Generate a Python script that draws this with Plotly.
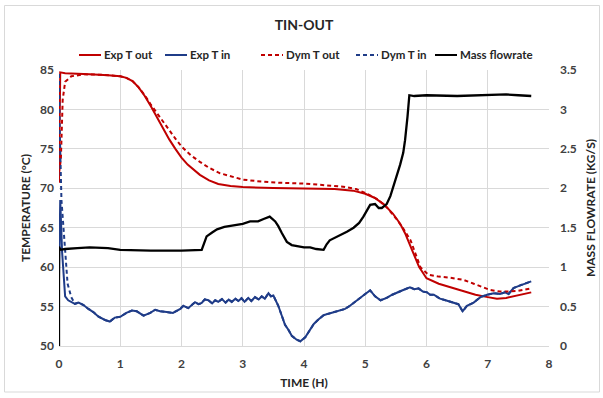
import plotly.graph_objects as go

# ---------------- data ----------------
exp_tout_t = [0.0, 0.02, 0.1, 0.3, 0.5, 0.8, 1.0, 1.1, 1.2, 1.3,
              1.4, 1.5, 1.6, 1.7, 1.8, 1.9, 2.0, 2.1, 2.2, 2.3,
              2.45, 2.6, 2.8, 3.0, 3.5, 4.0, 4.5, 4.8, 5.0, 5.15,
              5.3, 5.45, 5.57, 5.65, 5.72, 5.8, 5.88, 6.0, 6.2, 6.5,
              6.8, 7.0, 7.15, 7.3, 7.5, 7.71]
exp_tout = [70.7, 84.7, 84.6, 84.5, 84.45, 84.35, 84.2, 84.0, 83.6, 82.8,
            81.7, 80.4, 79.0, 77.6, 76.2, 75.0, 73.9, 73.0, 72.3, 71.7,
            71.0, 70.55, 70.3, 70.15, 70.05, 70.0, 69.9, 69.7, 69.3, 68.8,
            68.0, 66.8, 65.5, 64.3, 63.0, 61.6, 60.0, 58.6, 57.9, 57.2,
            56.5, 56.2, 56.0, 56.1, 56.4, 56.8]

dym_tout_t = [0.0, 0.03, 0.06, 0.1, 0.2, 0.4, 0.7, 1.0, 1.1, 1.2,
              1.3, 1.4, 1.5, 1.6, 1.7, 1.8, 1.9, 2.0, 2.15, 2.3,
              2.45, 2.63, 2.8, 3.0, 3.3, 3.6, 4.0, 4.3, 4.64, 4.85,
              5.03, 5.2, 5.35, 5.5, 5.62, 5.74, 5.82, 5.9, 6.03, 6.2,
              6.39, 6.6, 6.77, 6.9, 7.04, 7.2, 7.32, 7.5, 7.71]
dym_tout = [72.0, 73.6, 81.2, 83.5, 84.2, 84.45, 84.4, 84.2, 84.0, 83.6,
            82.8, 81.8, 80.6, 79.5, 78.5, 77.4, 76.3, 75.3, 74.2, 73.35,
            72.6, 71.9, 71.5, 71.1, 70.85, 70.7, 70.6, 70.4, 70.2, 69.9,
            69.3, 68.6, 67.6, 66.2, 64.9, 63.4, 61.8, 60.0, 59.05, 58.8,
            58.65, 58.4, 57.9, 57.5, 57.1, 56.9, 56.9, 57.0, 57.3]

exp_tin_t = [0.0, 0.02, 0.05, 0.1, 0.15, 0.26, 0.32, 0.4, 0.48, 0.56,
             0.64, 0.75, 0.83, 0.91, 1.0, 1.1, 1.19, 1.27, 1.38, 1.49,
             1.57, 1.65, 1.76, 1.86, 1.98, 2.03, 2.11, 2.22, 2.28, 2.33,
             2.38, 2.44, 2.5, 2.55, 2.6, 2.66, 2.72, 2.77, 2.82, 2.88,
             2.93, 2.98, 3.03, 3.09, 3.14, 3.2, 3.26, 3.31, 3.36, 3.42,
             3.46, 3.5, 3.58, 3.64, 3.69, 3.75, 3.8, 3.88, 3.94, 4.02,
             4.1, 4.16, 4.24, 4.32, 4.4, 4.48, 4.59, 4.67, 4.75, 4.83,
             4.92, 5.0, 5.08, 5.16, 5.25, 5.35, 5.44, 5.52, 5.62, 5.73,
             5.8, 5.87, 5.94, 6.01, 6.06, 6.12, 6.22, 6.31, 6.42, 6.52,
             6.59, 6.66, 6.77, 6.88, 6.99, 7.1, 7.2, 7.28, 7.34, 7.42,
             7.5, 7.56, 7.64, 7.71]
exp_tin = [58.3, 68.5, 62.0, 56.3, 55.8, 55.35, 55.5, 55.2, 54.7, 54.3,
           53.75, 53.3, 53.1, 53.6, 53.7, 54.2, 54.5, 54.4, 53.85, 54.2,
           54.6, 54.4, 54.3, 54.2, 54.7, 55.1, 54.8, 55.55, 55.3, 55.45,
           55.9, 55.8, 55.4, 55.8, 55.6, 55.95, 55.5, 55.9, 55.6, 56.0,
           55.7, 56.05, 55.6, 56.1, 55.7, 56.2, 55.9, 56.3, 56.0, 56.7,
           56.3, 56.4, 55.1, 53.8, 52.7, 52.0, 51.3, 50.8, 50.6, 51.1,
           52.0, 52.8, 53.4, 53.9, 54.1, 54.3, 54.5, 54.7, 55.1, 55.6,
           56.2, 56.6, 57.05, 56.3, 55.8, 56.1, 56.5, 56.8, 57.1, 57.45,
           57.2, 57.3, 56.9, 56.8, 56.5, 56.5, 56.0, 55.8, 55.5, 55.3,
           54.4, 55.1, 55.5, 56.2, 56.5, 56.7, 56.6, 56.8, 56.6, 57.35,
           57.6, 57.8, 58.0, 58.2]

dym_tin_start_t = [0.0, 0.01, 0.04, 0.09, 0.14, 0.2]
dym_tin_start = [84.5, 78.0, 68.5, 63.0, 57.9, 56.2]

mass_t = [0.0, 0.0, 0.02, 0.1, 0.3, 0.5, 0.8, 1.0, 1.5, 2.0,
          2.33, 2.37, 2.41, 2.5, 2.58, 2.7, 2.85, 3.0, 3.12, 3.25,
          3.34, 3.44, 3.53, 3.58, 3.64, 3.72, 3.8, 3.88, 4.0, 4.1,
          4.2, 4.32, 4.37, 4.42, 4.5, 4.59, 4.7, 4.81, 4.9, 4.97,
          5.03, 5.08, 5.16, 5.22, 5.27, 5.35, 5.41, 5.46, 5.52, 5.57,
          5.62, 5.65, 5.69, 5.72, 5.8, 6.0, 6.5, 7.0, 7.3, 7.5,
          7.71]
mass = [0.0, 1.26, 1.22, 1.23, 1.24, 1.25, 1.24, 1.22, 1.21, 1.21,
        1.22, 1.30, 1.39, 1.44, 1.48, 1.51, 1.53, 1.55, 1.58, 1.58,
        1.61, 1.64, 1.58, 1.52, 1.43, 1.32, 1.28, 1.27, 1.25, 1.25,
        1.23, 1.22, 1.29, 1.34, 1.37, 1.41, 1.45, 1.50, 1.56, 1.64,
        1.72, 1.79, 1.80, 1.75, 1.75, 1.80, 1.90, 2.02, 2.17, 2.30,
        2.45, 2.61, 2.91, 3.18, 3.17, 3.18, 3.17, 3.18, 3.19, 3.18,
        3.17]

x_ticks = [0, 1, 2, 3, 4, 5, 6, 7, 8]
series_names = ["Exp T out", "Exp T in", "Dym T out", "Dym T in", "Mass flowrate"]

# Dym T in overlays Exp T in after the initial drop
dym_tin_t = dym_tin_start_t + exp_tin_t[5:]
dym_tin = dym_tin_start + exp_tin[5:]

RED = "#c00000"
BLUE = "#1f3c88"
BLACK = "#000000"
DASH = "4px,3px"
colors = [RED, BLUE, RED, BLUE, BLACK]
dashes = ["solid", "solid", DASH, DASH, "solid"]

fig = go.Figure()
fig.add_trace(go.Scatter(x=exp_tout_t, y=exp_tout, name=series_names[0], mode="lines",
                         line=dict(color=RED, width=2)))
fig.add_trace(go.Scatter(x=exp_tin_t, y=exp_tin, name=series_names[1], mode="lines",
                         line=dict(color=BLUE, width=2)))
fig.add_trace(go.Scatter(x=dym_tout_t, y=dym_tout, name=series_names[2], mode="lines",
                         line=dict(color=RED, width=2, dash=DASH)))
fig.add_trace(go.Scatter(x=dym_tin_t, y=dym_tin, name=series_names[3], mode="lines",
                         line=dict(color=BLUE, width=2, dash=DASH)))
fig.add_trace(go.Scatter(x=mass_t, y=mass, name=series_names[4], mode="lines",
                         line=dict(color=BLACK, width=2.3), yaxis="y2"))

FONT = "Lato"
tickfont = dict(family=FONT, size=12, color="#404040", weight="bold")
titlefont = dict(family=FONT, size=12, color="#262626", weight="bold")

# ---- plot-area geometry (px) used to place the custom legend ----
PL, PR, PT, PB = 59, 549, 70, 346
W, H = 603, 398


def px_x(p):
    return (p - PL) / (PR - PL)


def px_y(p):
    return (PB - p) / (PB - PT)


legend_line_x = [79, 165, 261, 356, 435]
LEG_Y = 55
shapes = [dict(type="rect", xref="paper", yref="paper",
               x0=px_x(4.5), x1=px_x(599.5), y0=px_y(392), y1=px_y(5.5),
               line=dict(color="#d9d9d9", width=1), layer="below")]
annotations = []
for name, col, dsh, lx in zip(series_names, colors, dashes, legend_line_x):
    shapes.append(dict(type="line", xref="paper", yref="paper",
                       x0=px_x(lx), x1=px_x(lx + 22), y0=px_y(LEG_Y), y1=px_y(LEG_Y),
                       line=dict(color=col, width=2, dash=dsh)))
    annotations.append(dict(text=name, xref="paper", yref="paper",
                            x=px_x(lx + 23), y=px_y(LEG_Y), xanchor="left",
                            yanchor="middle", showarrow=False,
                            font=dict(family=FONT, size=11.5, color="#262626",
                                      weight="bold")))

fig.update_layout(
    width=W, height=H,
    margin=dict(l=PL, r=W - PR, t=PT, b=H - PB, autoexpand=False),
    paper_bgcolor="white", plot_bgcolor="white",
    font=dict(family=FONT, color="#404040"),
    showlegend=False,
    title=dict(text="TIN-OUT", x=0.5, xanchor="center", xref="paper",
               y=1 - 25 / H, yref="container", yanchor="middle", automargin=False,
               font=dict(family=FONT, size=14, color="#262626", weight="bold")),
    xaxis=dict(range=[0, 8], tickvals=x_ticks, showgrid=True, gridcolor="#d9d9d9",
               gridwidth=1, showline=True, linecolor="#d9d9d9", zeroline=False,
               ticks="", tickfont=tickfont, ticklabelstandoff=7, automargin=False,
               title=dict(text="TIME (H)", standoff=8, font=titlefont)),
    yaxis=dict(range=[50, 85], dtick=5, showgrid=True, gridcolor="#d9d9d9",
               zeroline=False, showline=False, ticks="", tickfont=tickfont,
               ticklabelstandoff=4, automargin=False,
               title=dict(text="TEMPERATURE (°C)", standoff=6, font=titlefont)),
    yaxis2=dict(range=[0, 3.5], dtick=0.5, overlaying="y", side="right",
                showgrid=False, zeroline=False, showline=False, ticks="",
                tickfont=tickfont, ticklabelstandoff=10, automargin=False,
                title=dict(text="MASS FLOWRATE (KG/S)", standoff=10, font=titlefont)),
    shapes=shapes,
    annotations=annotations,
)

fig.write_html("out.html")
